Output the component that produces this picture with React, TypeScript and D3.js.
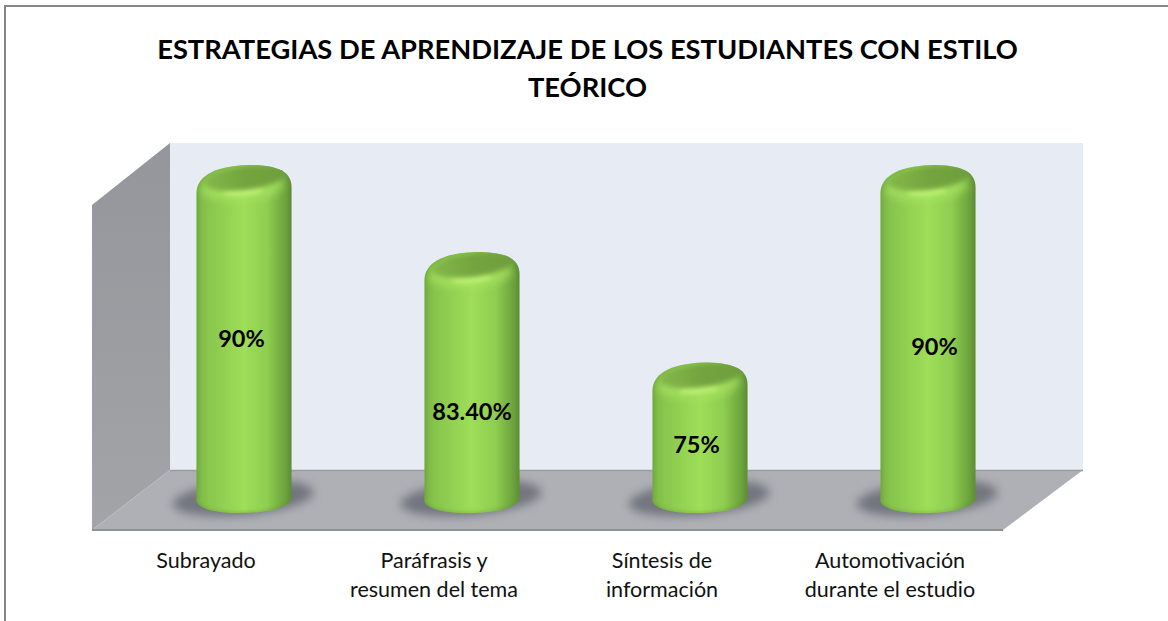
import React from "react";
import * as d3 from "d3";

const categories = ["Subrayado", "Paráfrasis y resumen del tema", "Síntesis de información", "Automotivación durante el estudio"];
const categoryLines = [["Subrayado"], ["Paráfrasis y", "resumen del tema"], ["Síntesis de", "información"], ["Automotivación", "durante el estudio"]];
const values = [90, 83.4, 75, 90];
const valueLabels = ["90%", "83.40%", "75%", "90%"];
const labelLift = [0, -30, -7, -8];
const labelShift = [-2.5, 0, -3.5, 6.5];
const titleLines = ["ESTRATEGIAS DE APRENDIZAJE DE LOS ESTUDIANTES CON ESTILO", "TEÓRICO"];

const FONT = "Lato, 'Open Sans', sans-serif";
const W = 1168, H = 621;
const wall = { l: 92, bx: 170, r: 1083, fr: 1003, top: 143, leftTop: 205, back: 470, front: 530 };

const x = d3.scaleBand<string>().domain(categories).range([130, 1042]).padding(0);
const y = d3.scaleLinear().domain([66, 90]).range([497, 181]);
const RX = 47.5, RY = 16;

function Cylinder({ cx, top, base, i }: { cx: number; top: number; base: number; i: number }) {
  const l = cx - RX, r = cx + RX;
  const body = `M${l},${top + 12} C${l},${top - 3} ${cx - 32},${top - RY + 1} ${cx + 4},${top - RY} C${cx + 30},${top - RY} ${r},${top - 11} ${r},${top + 6} L${r},${base + 3} C${r - 6},${base + 11} ${cx + 26},${base + RY} ${cx - 6},${base + RY} C${cx - 28},${base + RY} ${l + 4},${base + 12} ${l},${base + 5} Z`;
  return (
    <g>
      <ellipse transform={`rotate(-5 ${cx} ${base})`} cx={cx - 1} cy={base + 1} rx={RX + 23} ry={RY + 1} fill="#5c5e69" opacity={0.72} filter="url(#blur)" />
      <clipPath id={`clip${i}`}><path d={body} /></clipPath>
      <path d={body} fill="url(#body)" />
      <g clipPath={`url(#clip${i})`}>
        <path d={body} fill="none" stroke="#5f8f35" strokeWidth={3} opacity={0.35} filter="url(#blur1)" />
        <ellipse transform={`rotate(-4 ${cx} ${top})`} cx={cx - 2} cy={top + 6} rx={RX - 6} ry={14} fill="#a9e463" opacity={0.7} filter="url(#blur3)" />
        <ellipse transform={`rotate(-5 ${cx} ${top})`} cx={cx - 2} cy={top + 10} rx={20} ry={4} fill="#c8f87c" opacity={0.9} filter="url(#blur2)" />
        <ellipse transform={`rotate(-7 ${cx} ${top})`} cx={cx + 1} cy={top - 3} rx={RX - 6} ry={RY - 4} fill="url(#cap)" filter="url(#blur2)" />
      </g>
    </g>
  );
}

export default function App() {
  return (
    <svg width={W} height={H} style={{ position: "absolute", left: 0, top: 0, display: "block" }}>
      <defs>
        <linearGradient id="body" x1="0" x2="1" y1="0" y2="0">
          <stop offset="0" stopColor="#79b343" />
          <stop offset="0.1" stopColor="#86c44c" />
          <stop offset="0.5" stopColor="#9fde58" />
          <stop offset="0.75" stopColor="#8ecd50" />
          <stop offset="0.92" stopColor="#6fa63e" />
          <stop offset="1" stopColor="#618f37" />
        </linearGradient>
        <linearGradient id="cap" x1="0" x2="1" y1="0" y2="0">
          <stop offset="0" stopColor="#85b94a" />
          <stop offset="0.5" stopColor="#73a43f" />
          <stop offset="1" stopColor="#6f9e3c" />
        </linearGradient>
        <linearGradient id="leftWall" x1="0" x2="0" y1="0" y2="1">
          <stop offset="0" stopColor="#95969b" />
          <stop offset="1" stopColor="#a3a4a8" />
        </linearGradient>
        <filter id="blur" x="-30%" y="-80%" width="160%" height="260%"><feGaussianBlur stdDeviation="5" /></filter>
        <filter id="blur3" x="-30%" y="-80%" width="160%" height="260%"><feGaussianBlur stdDeviation="4" /></filter>
        <filter id="blur2" x="-30%" y="-80%" width="160%" height="260%"><feGaussianBlur stdDeviation="2.5" /></filter>
        <filter id="blur1" x="-30%" y="-50%" width="160%" height="200%"><feGaussianBlur stdDeviation="1.5" /></filter>
      </defs>
      <rect x={0} y={0} width={W} height={H} fill="#fff" />
      <path d={`M5,${H} V6 H${W}`} fill="none" stroke="#868686" strokeWidth={2} />
      {titleLines.map((t, i) => (
        <text key={t} x={587.5} y={59 + i * 38} textAnchor="middle" fontFamily={FONT} fontWeight={700} fontSize={27.3} fill="#000">{t}</text>
      ))}
      <rect x={wall.bx} y={wall.top} width={wall.r - wall.bx} height={wall.back - wall.top} fill="#e7ebf4" />
      <polygon points={`${wall.l},${wall.leftTop} ${wall.bx},${wall.top} ${wall.bx},${wall.back} ${wall.l},${wall.front}`} fill="url(#leftWall)" />
      <polygon points={`${wall.l},${wall.front} ${wall.bx},${wall.back} ${wall.r},${wall.back} ${wall.fr},${wall.front}`} fill="#aeb0b5" />
      <line x1={wall.bx} x2={wall.r} y1={wall.back + 0.5} y2={wall.back + 0.5} stroke="#9a9ca0" strokeWidth={1.5} />
      <line x1={wall.l} x2={wall.fr} y1={wall.front} y2={wall.front} stroke="#8f9094" strokeWidth={2} />
      {categories.map((c, i) => {
        const cx = x(c)! + x.bandwidth() / 2;
        return <Cylinder key={c} i={i} cx={cx} top={y(values[i])} base={y(66)} />;
      })}
      {categories.map((c, i) => {
        const cx = x(c)! + x.bandwidth() / 2;
        const mid = (y(values[i]) + y(66)) / 2;
        return (
          <text key={c} x={cx + labelShift[i]} y={mid + 8 - labelLift[i]} textAnchor="middle" fontFamily={FONT} fontWeight={700} fontSize={23.5} fill="#000">{valueLabels[i]}</text>
        );
      })}
      {categories.map((c, i) => {
        const cx = x(c)! + x.bandwidth() / 2 - 38;
        return categoryLines[i].map((t, j) => (
          <text key={t} x={cx} y={568 + j * 29} textAnchor="middle" fontFamily={FONT} fontSize={21.5} fill="#111">{t}</text>
        ));
      })}
    </svg>
  );
}
